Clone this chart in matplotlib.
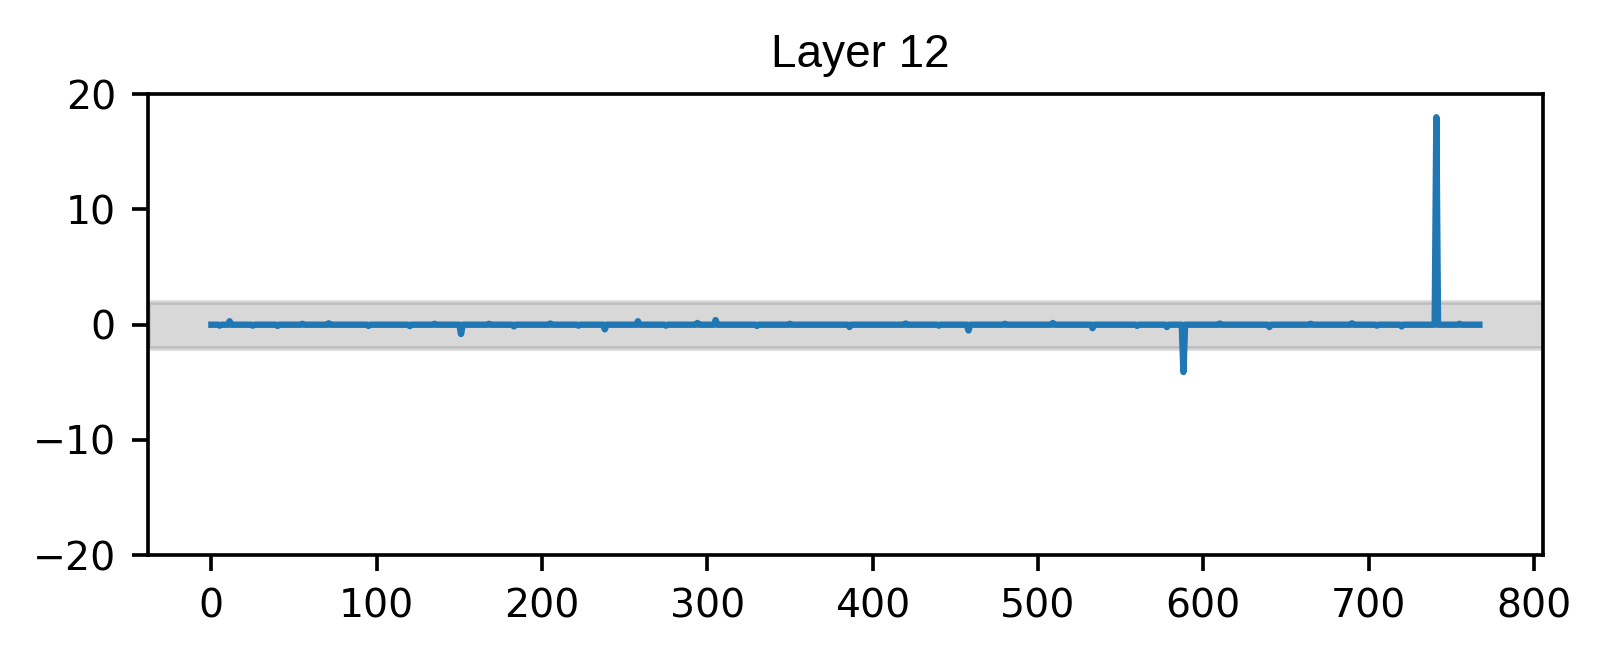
import numpy as np
import matplotlib
matplotlib.use("Agg")
import matplotlib.pyplot as plt

# Hidden dimension index and activation values
n_dims = 768
# Notable deviations from ~0 baseline: index -> value
spike_idx = [5, 11, 25, 40, 55, 71, 95, 120, 135, 151, 168, 183, 205, 222, 238, 258, 275, 294, 305, 330, 350, 386, 420, 440, 458, 480, 509, 533, 560, 578, 588, 610, 640, 665, 690, 705, 720, 741, 755]
spike_val = [-0.08, 0.3, -0.08, -0.1, 0.08, 0.12, -0.1, -0.12, 0.08, -0.8, 0.08, -0.15, 0.1, -0.08, -0.4, 0.3, -0.08, 0.15, 0.4, -0.1, 0.08, -0.2, 0.1, -0.08, -0.5, 0.08, 0.15, -0.3, -0.1, -0.2, -4.1, 0.1, -0.2, 0.08, 0.12, -0.08, -0.15, 18.0, 0.08]

band_low, band_high = -2, 2
title = "Layer 12"
y_ticks = [-20, -10, 0, 10, 20]
x_ticks = [0, 100, 200, 300, 400, 500, 600, 700, 800]

values = np.zeros(n_dims)
values[spike_idx] = spike_val

dpi = 330
fig = plt.figure(figsize=(1602 / dpi, 654 / dpi), dpi=dpi)
ax = fig.add_axes([0.0924, 0.151, 0.8706, 0.705])
ax.axhspan(band_low, band_high, color="gray", alpha=0.3)
ax.plot(np.arange(n_dims), values, color="#1f77b4", lw=1.4)
ax.set_ylim(-20, 20)
ax.set_yticks(y_ticks)
ax.set_xticks(x_ticks)
ax.tick_params(labelsize=8.6)
ax.set_title(title, fontsize=10, x=0.511, family=["Liberation Sans", "DejaVu Sans"])
fig.savefig("out.png", dpi=dpi)
